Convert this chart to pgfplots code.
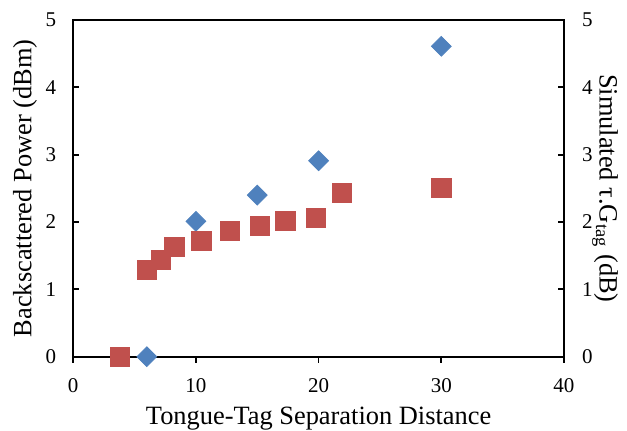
\documentclass[border=0pt]{standalone}
\usepackage{fontspec}
\setmainfont{Liberation Serif}
\usepackage{pgfplots}
\pgfplotsset{compat=1.18}

\definecolor{xlblue}{HTML}{4F81BD}
\definecolor{xlred}{HTML}{C0504D}

\newcommand{\labfont}{\fontsize{13.2}{15}\selectfont}

\pgfplotsset{
  common/.style={
    scale only axis,
    width=245.4pt, height=168.35pt,
    at={(0,0)}, anchor=south west,
    xmin=0, xmax=40, ymin=0, ymax=5,
    ytick={0,1,2,3,4,5},
    clip=false,
    axis line style={line width=0.9pt},
    major tick style={line width=0.9pt, black},
    major tick length=3pt,
    tick label style={font=\fontsize{10.5}{12}\selectfont},
    /pgf/number format/assume math mode=true,
  },
}

\begin{document}
\begin{tikzpicture}

% primary axis: measured backscattered power
\begin{axis}[
  common,
  xtick={0,10,20,30,40},
  xtick pos=bottom, xtick align=outside,
  ytick pos=left, ytick align=inside,
  yticklabel shift=5pt,
  xticklabel shift=4.5pt,
  every axis x label/.style={at={(rel axis cs:0.5,-0.2)}, anchor=base, font=\labfont},
  every axis y label/.style={at={(rel axis cs:-0.098,0.5)}, rotate=90, anchor=center, font=\labfont},
  xlabel={Tongue-Tag Separation Distance},
  ylabel={Backscattered Power (dBm)},
]
\addplot[only marks, mark=square*, mark size=3.5pt,
  mark options={rotate=45, fill=xlblue, draw=xlblue}] coordinates {
  (6,0) (10,2.01) (15,2.40) (20,2.91) (30,4.61)
};
\end{axis}

% secondary axis: simulated tau.G_tag
\begin{axis}[
  common,
  axis y line*=right, ytick align=inside,
  axis x line=none,
  yticklabel shift=5.5pt,
  every axis y label/.style={at={(rel axis cs:1.0835,0.5)}, rotate=-90, anchor=center, font=\labfont},
  ylabel={Simulated τ.G\textsubscript{tag} (dB)},
]
\addplot[only marks, mark=square*, mark size=4.8pt,
  mark options={fill=xlred, draw=xlred}] coordinates {
  (3.8,0) (6,1.29) (7.15,1.44) (8.25,1.63) (10.45,1.72) (12.75,1.87)
  (15.2,1.94) (17.3,2.02) (19.8,2.06) (21.9,2.43) (30,2.51)
};
\end{axis}

\pgfresetboundingbox
\useasboundingbox (-36.6pt,-36.65pt) rectangle (276.9pt,178.35pt);
\end{tikzpicture}
\end{document}
